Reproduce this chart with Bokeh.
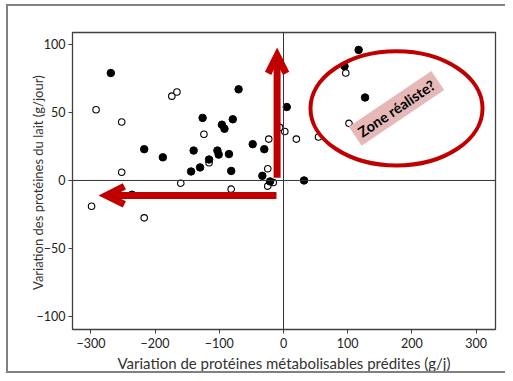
from bokeh.plotting import figure
from bokeh.models import Span, Arrow, OpenHead, Label, FixedTicker, Range1d, Title
from bokeh.embed import file_html
from bokeh.resources import INLINE

# filled points (x: predicted metabolisable protein change g/d, y: milk protein change g/d)
filled_x = [-269, -217, -188, -236, -144, -70, -126, -79, -96, -92, -140, -103, -101,
            -85, -116, -130, -81.5, -48, -30, -33, -21, 5, 32, 127, 117, 95]
filled_y = [79, 23, 17, -10.5, 6.6, 67, 46, 45, 41, 38, 22, 22, 19,
            19.4, 15.4, 9.6, 7, 26.7, 23, 3.4, -0.7, 54, 0, 61, 96, 84]
# open points
open_x = [-292, -252, -174, -166, -252, -160, -299, -217, -124, -116, -23, -24.5,
          -16, -24.5, -81.5, 2, -6, 20, 54.5, 102, 97]
open_y = [52, 43, 62, 65, 6, -2, -19, -27.5, 34, 13, 30.4, 8.6,
          -1.5, -4.2, -6.4, 36, 39, 30.4, 32, 42, 79]

x_ticks = [-300, -200, -100, 0, 100, 200, 300]
y_ticks = [-100, -50, 0, 50, 100]

x_title = "Variation de protéines métabolisables prédites (g/j)"
y_title = "Variation des protéines du lait  (g/jour)"

# annotations
vert_arrow = dict(x0=-10, y0=2, x1=-10, y1=92)
horiz_arrow = dict(x0=-11, y0=-11, x1=-276, y1=-11)
zone_ellipse = dict(x=176, y=53, w=268, h=84)
zone_text = "Zone réaliste?"

RED = "#C00000"
FONT = "Lato"
FRAME = "2px solid #808080"

p = figure(width=499, height=369, output_backend="svg", toolbar_location=None,
           x_range=Range1d(-328.7, 330.2), y_range=Range1d(-109.6, 108.8),
           min_border_left=64, min_border_right=12, min_border_top=26, min_border_bottom=46,
           styles={"border-left": FRAME, "border-top": FRAME, "border-bottom": FRAME,
                   "box-sizing": "border-box", "margin-left": "6px", "margin-top": "4px"})

p.xgrid.visible = False
p.ygrid.visible = False
p.outline_line_color = "#404040"
p.outline_line_width = 1.3

for ax in (p.xaxis[0], p.yaxis[0]):
    ax.axis_line_color = "#404040"
    ax.major_tick_line_color = "#404040"
    ax.minor_tick_line_color = None
    ax.major_tick_in = 0
    ax.major_tick_out = 4
    ax.major_label_text_font = FONT
    ax.major_label_text_font_size = "12.5px"
    ax.major_label_text_color = "#222222"
    ax.axis_label_text_font = FONT
    ax.axis_label_text_font_style = "normal"
    ax.axis_label_text_color = "#333333"

p.xaxis.ticker = FixedTicker(ticks=x_ticks)
p.yaxis.ticker = FixedTicker(ticks=y_ticks)
p.xaxis.axis_label = x_title
p.xaxis.axis_label_text_font_size = "15px"
p.xaxis.major_label_standoff = 4
p.yaxis.major_label_standoff = 3
p.xaxis.axis_label_standoff = 3

# y title, placed off-centre (shifted upwards) as in the original
ytitle = Title(text=y_title, align="center", offset=43, text_font=FONT,
               text_font_size="13px", text_font_style="normal",
               text_color="#333333", standoff=0)
try:
    ytitle.standoff = -24
except Exception:
    ytitle.standoff = 0
p.add_layout(ytitle, "left")

p.add_layout(Span(location=0, dimension="height", line_color="#333333", line_width=1))
p.add_layout(Span(location=0, dimension="width", line_color="#333333", line_width=1))

p.scatter(open_x, open_y, size=6.5, fill_color="white", line_color="black", line_width=1.1)
p.scatter(filled_x, filled_y, size=7.5, fill_color="black", line_color="black")

p.add_layout(Arrow(end=OpenHead(size=18, line_width=7, line_color=RED, line_join="miter"),
                   x_start=vert_arrow["x0"], y_start=vert_arrow["y0"],
                   x_end=vert_arrow["x1"], y_end=vert_arrow["y1"],
                   line_width=7, line_color=RED))
p.add_layout(Arrow(end=OpenHead(size=18, line_width=7, line_color=RED, line_join="miter"),
                   x_start=horiz_arrow["x0"], y_start=horiz_arrow["y0"],
                   x_end=horiz_arrow["x1"], y_end=horiz_arrow["y1"],
                   line_width=7, line_color=RED))

p.ellipse(x=[zone_ellipse["x"]], y=[zone_ellipse["y"]], width=[zone_ellipse["w"]],
          height=[zone_ellipse["h"]], fill_color=None, line_color=RED, line_width=4)

p.add_layout(Label(x=zone_ellipse["x"], y=zone_ellipse["y"], text=zone_text,
                   angle=34, angle_units="deg", text_font=FONT, text_font_style="bold",
                   text_font_size="14.5px", text_color="black", text_align="center",
                   text_baseline="middle", background_fill_color="#E6B9B8",
                   padding=(5, 3)))

open("out.html", "w").write(file_html(p, INLINE))
